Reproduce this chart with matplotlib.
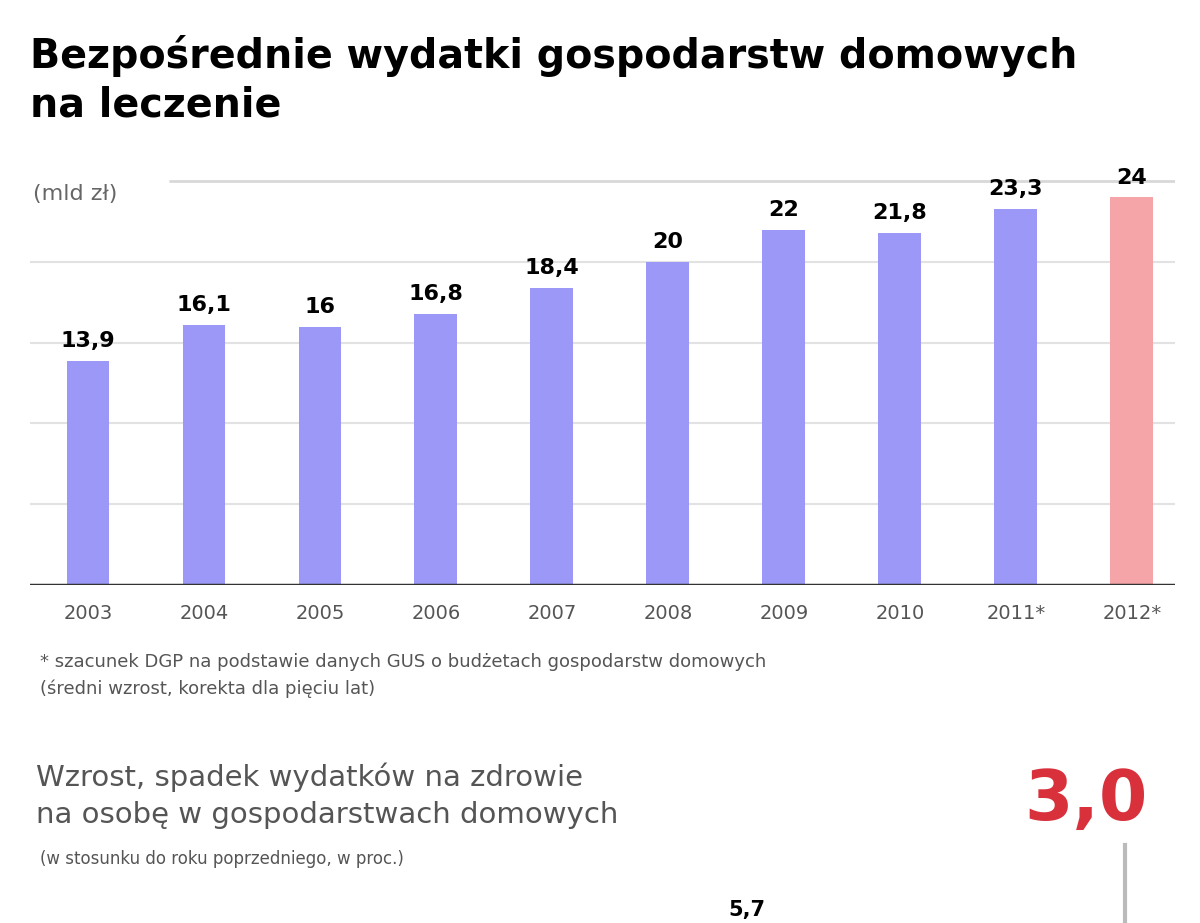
import matplotlib.pyplot as plt
import numpy as np

plt.rcParams['font.family'] = ['DejaVu Sans']

years = ["2003", "2004", "2005", "2006", "2007", "2008", "2009", "2010", "2011*", "2012*"]
values = [13.9, 16.1, 16.0, 16.8, 18.4, 20.0, 22.0, 21.8, 23.3, 24.0]
labels = ["13,9", "16,1", "16", "16,8", "18,4", "20", "22", "21,8", "23,3", "24"]
grid_vals = [5, 10, 15, 20]

blue = "#9b98f7"
red = "#f5a4a7"

fig = plt.figure(figsize=(12, 9.23), dpi=100)

fig.text(0.025, 0.913, "Bezpośrednie wydatki gospodarstw domowych\nna leczenie",
         fontsize=28.5, fontweight='bold', va='center', ha='left', linespacing=1.3)

ax = fig.add_axes([0.025, 0.3662, 0.954, 0.4637])
x = np.arange(len(years))
colors = [blue] * (len(years) - 1) + [red]

for g in grid_vals:
    ax.axhline(g, color='#e2e2e2', linewidth=1.5, zorder=0)
# top gridline starts after the unit label
ax.hlines(25, 0.7, 9.37, color='#d8d8d8', linewidth=2, zorder=0)

ax.bar(x, values, width=0.37, color=colors, zorder=2)
for xi, v, lab in zip(x, values, labels):
    ax.text(xi, v + 0.6, lab, ha='center', va='bottom', fontsize=16, fontweight='bold')

ax.axhline(0, color='#333333', linewidth=2.5, zorder=3)
ax.text(-0.47, 24.2, "(mld zł)", fontsize=16, color='#666666', va='center', ha='left')

ax.set_xlim(-0.5, 9.37)
ax.set_ylim(0, 26.5)
ax.set_xticks(x)
ax.set_xticklabels(years, fontsize=14, color='#555555')
ax.tick_params(axis='x', length=0, pad=14)
ax.set_yticks([])
for s in ax.spines.values():
    s.set_visible(False)

fig.text(0.033, 0.268, "* szacunek DGP na podstawie danych GUS o budżetach gospodarstw domowych\n"
         "(średni wzrost, korekta dla pięciu lat)",
         fontsize=13, color='#555555', va='center', ha='left', linespacing=1.6)

fig.text(0.03, 0.138, "Wzrost, spadek wydatków na zdrowie\nna osobę w gospodarstwach domowych",
         fontsize=21, color='#555555', va='center', ha='left', linespacing=1.4)
fig.text(0.033, 0.069, "(w stosunku do roku poprzedniego, w proc.)",
         fontsize=12, color='#555555', va='center', ha='left')

fig.text(0.905, 0.133, "3,0", fontsize=50, fontweight='bold', color='#d8313c',
         va='center', ha='center')
fig.add_artist(plt.Line2D([0.9375, 0.9375], [0.0, 0.085], color='#bbbbbb', linewidth=3))
fig.text(0.622, 0.003, "5,7", fontsize=15, fontweight='bold', va='bottom', ha='center')

plt.savefig("out.png", dpi=100)
